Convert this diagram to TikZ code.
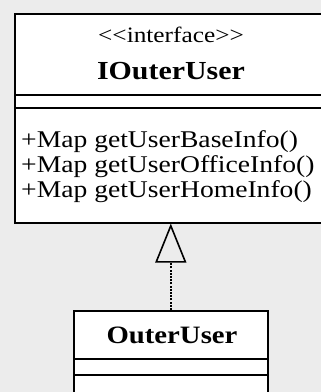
\documentclass[tikz,border=0pt]{standalone}
\usepackage{fontspec}
\setmainfont{Liberation Serif}
\newfontfamily\uml{Liberation Serif}[FakeStretch=1.15]
\usetikzlibrary{arrows.meta}
\definecolor{bg}{HTML}{ECECEC}
\tikzset{
  classbox/.style={draw, line width=1.6pt, fill=white, anchor=north west, inner sep=0pt},
  sepline/.style={line width=1.6pt},
  txt/.style={anchor=base, inner sep=0pt, font=\uml},
  realize/.style={line width=1.4pt, dash pattern=on 2pt off 1.2pt, -{Triangle[open, length=39pt, width=31pt, line width=1.6pt]}}
}
\begin{document}
\begin{tikzpicture}[x=1pt, y=-1pt]
\useasboundingbox[fill=bg] (0,0) rectangle (321,392);
\begin{scope}
\clip (0,0) rectangle (321,392);
% top class
\node[classbox, minimum width=312pt, minimum height=209pt] (iface) at (14,13) {};
\draw[sepline] (14,95) -- (326,95);
\draw[sepline] (14,108) -- (326,108);
\node[txt] (stereo) at (171,42) {\fontsize{22}{24}\selectfont <<interface>>};
\node[txt] (ititle) at (171,79) {\fontsize{26}{28}\selectfont\bfseries IOuterUser};
\node[txt, anchor=base west] (m1) at (21,147) {\fontsize{24}{26}\selectfont +Map getUserBaseInfo()};
\node[txt, anchor=base west] (m2) at (21,172) {\fontsize{24}{26}\selectfont +Map getUserOfficeInfo()};
\node[txt, anchor=base west] (m3) at (21,197) {\fontsize{24}{26}\selectfont +Map getUserHomeInfo()};
% bottom class
\node[classbox, minimum width=194pt, minimum height=100pt] (outer) at (73,310) {};
\draw[sepline] (73,359) -- (267,359);
\draw[sepline] (73,375) -- (267,375);
\node[txt] (otitle) at (172,343) {\fontsize{25}{27}\selectfont\bfseries OuterUser};
% realization
\draw[realize] (outer.north) -- (outer.north |- iface.south);
\end{scope}
\end{tikzpicture}
\end{document}
